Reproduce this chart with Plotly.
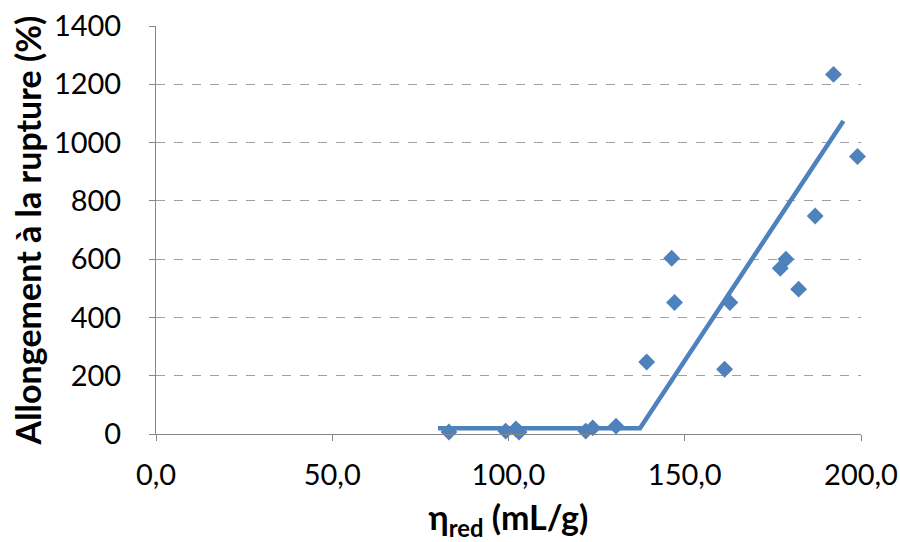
import plotly.graph_objects as go

eta_red = [83.1, 99.2, 102.1, 103.0, 121.9, 123.9, 130.5, 139.2, 146.3, 147.1,
           161.3, 162.8, 177.1, 178.7, 182.3, 187.0, 192.2, 199.0]
allongement = [7, 10, 17, 7, 10, 21, 27, 247, 603, 451,
               222, 451, 569, 600, 497, 748, 1234, 952]

fit_x = [80.0, 137.3, 195.0]
fit_y = [20, 20, 1074]

x_ticks = [0, 50, 100, 150, 200]
x_tick_labels = ["0,0", "50,0", "100,0", "150,0", "200,0"]
y_ticks = [0, 200, 400, 600, 800, 1000, 1200, 1400]

blue = "#4F81BD"
font_family = "Lato, 'Open Sans', sans-serif"

fig = go.Figure()
fig.add_trace(go.Scatter(x=eta_red, y=allongement, mode="markers",
                         marker=dict(symbol="diamond", size=13, color=blue),
                         showlegend=False, cliponaxis=False))
fig.add_trace(go.Scatter(x=fit_x, y=fit_y, mode="lines",
                         line=dict(color=blue, width=4.5), showlegend=False))

fig.update_layout(
    width=900, height=542,
    margin=dict(l=156, r=39, t=26, b=108),
    plot_bgcolor="white", paper_bgcolor="white",
    font=dict(family=font_family, size=22, color="black"),
)
fig.update_xaxes(
    range=[0, 200], tickvals=x_ticks, ticktext=x_tick_labels,
    automargin=False,
    showgrid=False, zeroline=False,
    showline=True, linecolor="#868686", linewidth=1,
    ticks="outside", ticklen=6, tickcolor="#868686",
    tickfont=dict(size=29), ticklabelstandoff=9,
    title=dict(text="<b>η<sub>red</sub> (mL/g)</b>", font=dict(size=34), standoff=19),
)
fig.update_yaxes(
    range=[0, 1400], tickvals=y_ticks,
    automargin=False,
    showgrid=True, gridcolor="#A0A0A0", griddash="dash", gridwidth=1,
    zeroline=False,
    showline=True, linecolor="#868686", linewidth=1,
    ticks="outside", ticklen=6, tickcolor="#868686",
    tickfont=dict(size=29), ticklabelstandoff=22,
    title=dict(text="<b>Allongement à la rupture (%)</b>", font=dict(size=34), standoff=2),
)

fig.write_html("out.html")
